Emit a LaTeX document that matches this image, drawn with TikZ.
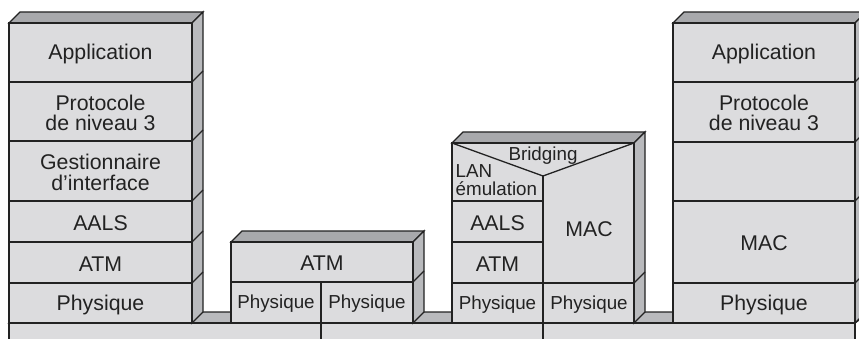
\documentclass[tikz,border=0pt]{standalone}
\usepackage{fontspec}
\setmainfont{Liberation Sans}
\definecolor{frontc}{HTML}{DCDCDE}
\definecolor{topc}{HTML}{A8A9AC}
\definecolor{sidec}{HTML}{B9BABD}
\definecolor{linec}{HTML}{222222}
\newcommand\stackbox[4]{%
  \draw[fill=topc] (#1,#2) -- (#1+11,#2-11) -- (#3+11,#2-11) -- (#3,#2) -- cycle;
  \draw[fill=sidec] (#3,#2) -- (#3+11,#2-11) -- (#3+11,#4-11) -- (#3,#4) -- cycle;
  \draw[fill=frontc] (#1,#2) rectangle (#3,#4);
}
\tikzset{
  big/.style={font=\fontsize{21.3}{20.5}\selectfont, align=center, inner sep=0pt, text=linec, yshift=-1.5pt},
  small/.style={font=\fontsize{18.8}{18.5}\selectfont, align=center, inner sep=0pt, text=linec, yshift=-1.5pt},
}
\begin{document}
\begin{tikzpicture}[x=1pt,y=-1pt,line width=1.3pt,draw=linec,line join=miter]
\useasboundingbox (0,0) rectangle (859,339);
\clip (0,0) rectangle (859,339);
% base
\draw[fill=sidec] (9,323) -- (20,312) -- (870,312) -- (855,323) -- cycle;
\draw[fill=frontc] (9,323) rectangle (855,350);
\draw (321,323) -- (321,350);
\draw (543,323) -- (543,350);
% left stack
\stackbox{9}{23}{192}{323}
\foreach \y in {82,141,201,242,283} {
  \draw (9,\y) -- (192,\y);
  \draw (192,\y) -- ++(11,-11);
}
\node[big] (l1) at (100.5,52.5) {Application};
\node[big] (l2) at (100.5,111.5) {Protocole\\de niveau 3};
\node[big] (l3) at (100.5,171) {Gestionnaire\\d’interface};
\node[big] (l4) at (100.5,221.5) {AALS};
\node[big] (l5) at (100.5,262.5) {ATM};
\node[big] (l6) at (100.5,303) {Physique};
% middle stack
\stackbox{231}{242}{413}{323}
\draw (231,282) -- (413,282);
\draw (413,282) -- ++(11,-11);
\draw (321,282) -- (321,323);
\node[big] (m1) at (322,262) {ATM};
\node[small] (m2) at (276,302.5) {Physique};
\node[small] (m3) at (367,302.5) {Physique};
% bridge stack
\stackbox{452}{143}{634}{323}
\draw (452,143) -- (543,176) -- (634,143);
\draw (543,176) -- (543,323);
\foreach \y in {201,242} { \draw (452,\y) -- (543,\y); }
\draw (452,283) -- (634,283);
\draw (634,283) -- ++(11,-11);
\node[small] (b1) at (543,154) {Bridging};
\node[small, align=left, anchor=west] (b2) at (455,178.5) {LAN\\émulation};
\node[big] (b3) at (497.5,221.5) {AALS};
\node[big] (b4) at (497.5,262.5) {ATM};
\node[big] (b5) at (589,228) {MAC};
\node[small] (b6) at (497.5,303) {Physique};
\node[small] (b7) at (589,303) {Physique};
% right stack
\stackbox{673}{23}{855}{323}
\foreach \y in {82,142,201,283} {
  \draw (673,\y) -- (855,\y);
  \draw (855,\y) -- ++(11,-11);
}
\node[big] (r1) at (764,52.5) {Application};
\node[big] (r2) at (764,111.5) {Protocole\\de niveau 3};
\node[big] (r3) at (764,242) {MAC};
\node[big] (r4) at (764,303) {Physique};
\end{tikzpicture}
\end{document}
